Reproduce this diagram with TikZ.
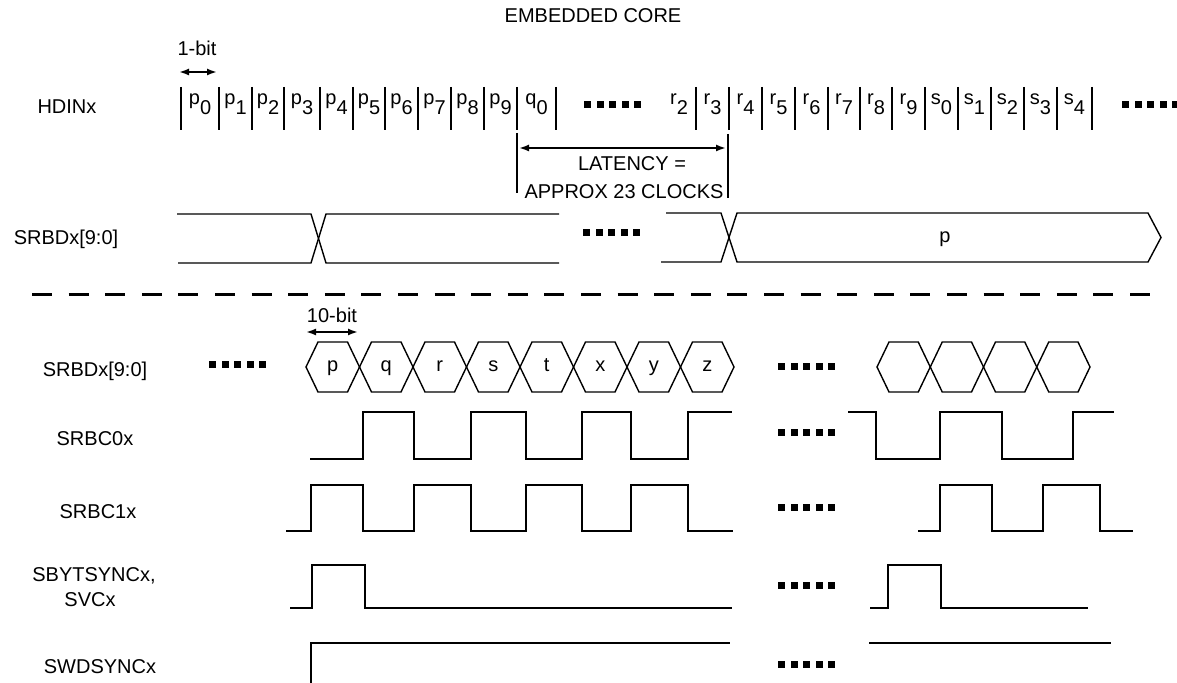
\documentclass[tikz,border=0pt]{standalone}
\usepackage{fontspec}
\setmainfont{Liberation Sans}
\usetikzlibrary{arrows.meta}

% five small squares: left x, middle y
\newcommand{\gapdots}[2]{%
  \foreach \k in {0,...,4} \fill ({#1+12.5*\k},{#2-3.5}) rectangle ++(7,7);}
% one hexagon of a data bus: left point, right point
\newcommand{\hexcell}[2]{%
  \draw[hexline] ({#1},367) -- ({#1+12},342) -- ({#2-12},342) -- ({#2},367) -- ({#2-12},392) -- ({#1+12},392) -- cycle;}

\begin{document}
\begin{tikzpicture}[x=0.5pt, y=-0.5pt, font=\fontsize{10}{12}\selectfont,
    sig/.style={line width=1.25pt},
    thinsig/.style={line width=0.7pt},
    hexline/.style={line width=0.7pt},
    bitbar/.style={line width=1pt},
    lbl/.style={inner sep=0pt, text height=7.2pt, text depth=0pt},
    widtharrow/.style={line width=0.9pt, {Latex[length=5pt,width=3.5pt]}-{Latex[length=5pt,width=3.5pt]}}]
    \useasboundingbox (0,0) rectangle (1177,683);

    % Title and signal names
    \node[lbl] (title) at (593,15) {EMBEDDED CORE};
    \node[lbl] (hdin) at (67,106) {HDINx};
    \node[lbl] (srbdtop) at (66,237) {SRBDx[9:0]};
    \node[lbl] (srbd) at (95,369) {SRBDx[9:0]};
    \node[lbl] (srbc0) at (95,438) {SRBC0x};
    \node[lbl] (srbc1) at (98,511) {SRBC1x};
    \node[lbl] (sbyt) at (94,574) {SBYTSYNCx,};
    \node[lbl] (svc) at (90,599) {SVCx};
    \node[lbl] (swd) at (100,666) {SWDSYNCx};

    % 1-bit width
    \node[lbl] (onebit) at (197,48) {1-bit};
    \coordinate (ob-l) at (179,72);
    \coordinate (ob-r) at (217,72);
    \draw[widtharrow] (ob-l) -- (ob-r);

    % HDINx serial bits
    \foreach \x in {181,219,252,284,320,353,385,418,451,484,517,556,
                    696,729,762,795,828,860,892,925,958,991,1024,1057,1092}
        \draw[bitbar] (\x,87) -- (\x,130);
    \foreach \x/\b/\n in {200/p/0, 235.5/p/1, 268/p/2, 302/p/3, 336.5/p/4, 369/p/5,
                          401.5/p/6, 434.5/p/7, 467.5/p/8, 500.5/p/9, 536.5/q/0,
                          679/r/2, 712.5/r/3, 745.5/r/4, 778.5/r/5, 811.5/r/6, 844/r/7,
                          876/r/8, 908.5/r/9, 941.5/s/0, 974.5/s/1, 1007.5/s/2,
                          1040.5/s/3, 1074.5/s/4}
        \node[anchor=base, inner sep=0pt] (bit-\b\n) at (\x,105) {\b\raisebox{-5pt}{\n}};
    \gapdots{584}{105}
    \gapdots{1122}{105}

    % Latency
    \draw[bitbar] (517,133) -- (517,193);
    \draw[bitbar] (728,134) -- (728,198);
    \coordinate (lat-l) at (519,148);
    \coordinate (lat-r) at (726,148);
    \draw[widtharrow] (lat-l) -- (lat-r);
    \node[lbl] (lat1) at (632,163) {LATENCY =};
    \node[lbl] (lat2) at (624,191) {APPROX 23 CLOCKS};

    % Parallel word, upper half
    \draw[thinsig] (177,214) -- (311,214) -- (326,263) -- (559,263);
    \draw[thinsig] (178,263) -- (311,263) -- (326,214) -- (559,214);
    \gapdots{583}{233}
    \draw[thinsig] (666,213) -- (721,213) -- (737,262) -- (1148,262) -- (1161,237.5)
        -- (1148,213) -- (737,213) -- (721,262) -- (661,262);
    \node[lbl] (pword) at (945,235) {p};

    % Separator
    \draw[line width=1.5pt, dash pattern=on 10pt off 8.3pt] (32,295) -- (1156,295);

    % 10-bit width
    \node[lbl] (tenbit) at (332,315) {10-bit};
    \coordinate (tb-l) at (306,332);
    \coordinate (tb-r) at (358,332);
    \draw[widtharrow] (tb-l) -- (tb-r);

    % SRBDx[9:0] bytes
    \gapdots{209}{365}
    \foreach \b [count=\i from 0] in {p,q,r,s,t,x,y,z} {
        \pgfmathsetmacro{\xl}{306+53.5*\i}
        \hexcell{\xl}{\xl+53.5}
        \node[anchor=base, inner sep=0pt] (byte-\b) at ({\xl+26.75},372) {\b};
    }
    \gapdots{778}{367}
    \foreach \i in {0,...,3} {
        \pgfmathsetmacro{\xl}{877+53.25*\i}
        \hexcell{\xl}{\xl+53.25}
    }

    % SRBC0x
    \draw[sig] (310,459) -| (363,412) -| (414,459) -| (471,412) -| (526,459)
        -| (582,412) -| (631,459) -| (688,412) -- (732,412);
    \gapdots{778}{433}
    \draw[sig] (848,412) -| (876,459) -| (940,412) -| (1002,459) -| (1073,412) -- (1114,412);

    % SRBC1x
    \draw[sig] (286,531) -| (311,485) -| (363,531) -| (414,485) -| (471,531) -| (526,485)
        -| (582,531) -| (631,485) -| (688,531) -- (733,531);
    \gapdots{778}{508}
    \draw[sig] (918,531) -| (940,485) -| (992,531) -| (1043,485) -| (1100,531) -- (1133,531);

    % SBYTSYNCx, SVCx
    \draw[sig] (290,608) -| (312,565) -| (365,608) -- (732,608);
    \gapdots{778}{585}
    \draw[sig] (870,608) -| (888,565) -| (941,608) -- (1088,608);

    % SWDSYNCx
    \draw[sig] (311,683) |- (730,643);
    \gapdots{778}{664}
    \draw[sig] (869,643) -- (1111,643);
\end{tikzpicture}
\end{document}
